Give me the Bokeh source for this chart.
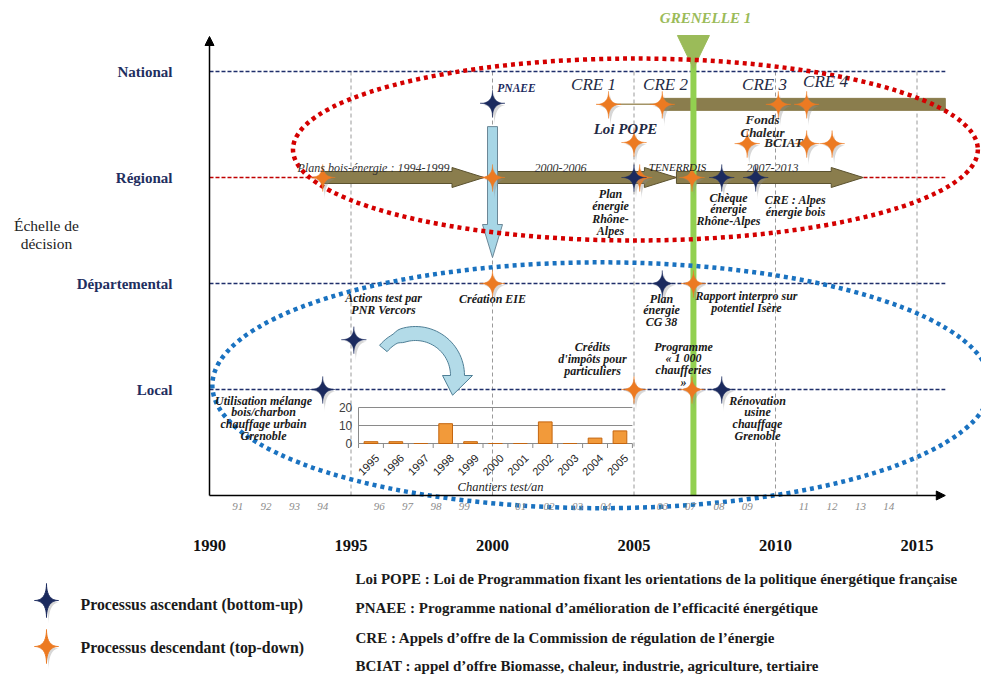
import numpy as np
from bokeh.plotting import figure
from bokeh.models import Range1d, Arrow, NormalHead
from bokeh.core.properties import value
from bokeh.embed import file_html
from bokeh.resources import INLINE

# ------------------------------------------------------------------ data
level_names = ["Local", "Départemental", "Régional", "National"]
level_values = [1, 2, 3, 4]

major_years = [1990, 1995, 2000, 2005, 2010, 2015]
minor_years = [1991, 1992, 1993, 1994, 1996, 1997, 1998, 1999, 2001, 2002,
               2003, 2004, 2006, 2007, 2008, 2009, 2011, 2012, 2013, 2014]
minor_labels = ["91", "92", "93", "94", "96", "97", "98", "99", "01", "02",
                "03", "04", "06", "07", "08", "09", "11", "12", "13", "14"]

# ascending (bottom-up) processes
asc_years = [2000.0, 2005.0, 2008.1, 2009.3, 2006.0, 1995.1, 1994.0, 2008.1]
asc_levels = [3.70, 3.0, 3.0, 3.0, 2.0, 1.47, 1.0, 1.0]

# descending (top-down) processes
desc_years = [1994.0, 2000.0, 2004.1, 2006.0, 2005.0, 2005.2, 2007.05, 2010.1,
              2011.1, 2009.0, 2011.1, 2012.0, 2000.0, 2007.1, 2005.0, 2007.05]
desc_levels = [3.0, 3.0, 3.69, 3.69, 3.33, 3.0, 3.0, 3.69,
               3.69, 3.32, 3.32, 3.32, 2.0, 2.0, 1.0, 1.0]

# regional wood-energy plans (periods)
plan_start = [1994.0, 2000.0, 2006.5]
plan_end = [1999.7, 2006.5, 2013.1]
plan_level = 3.0
plan_labels = ["Plans bois-énergie : 1994-1999", "2000-2006", "2007-2013"]

# CRE tenders band
cre_link = [2004.1, 2006.0]
cre_band = [2006.0, 2016.0]
cre_level = 3.69

# PNAEE downward arrow (national -> departmental)
pnaee_year = 2000.0
pnaee_top, pnaee_tip = 3.48, 2.245

grenelle_year = 2007.1

# inset bar chart: test sites per year
chantier_years = ["1995", "1996", "1997", "1998", "1999", "2000",
                  "2001", "2002", "2003", "2004", "2005"]
chantier_counts = [1, 1, 0, 11, 1, 0, 0, 12, 0, 3, 7]
chantier_ticks = [0, 10, 20]

legend_labels = ["Processus ascendant (bottom-up)", "Processus descendant (top-down)"]
definitions = [
    "Loi POPE : Loi de Programmation fixant les orientations de la politique énergétique française",
    "PNAEE : Programme national d’amélioration de l’efficacité énergétique",
    "CRE : Appels d’offre de la Commission de régulation de l’énergie",
    "BCIAT : appel d’offre Biomasse, chaleur, industrie, agriculture, tertiaire",
]

# ------------------------------------------------------------------ layout
PXY, PXL = 28.3, 106.0          # px per year, px per level
AX0, AY0 = 209.0, 495.0         # page px of (1990, level 0)
W, H, OFF = 981, 676, 0

def px2x(px):
    return 1990 + (px - AX0) / PXY

def py2y(py):
    return (AY0 - py) / PXL

NAVY = "#1b2a5e"
ORANGE = "#ec7a22"
SERIF = value("Liberation Serif")
SANS = value("Liberation Sans")

p = figure(width=W, height=H, x_range=Range1d(px2x(OFF), px2x(OFF + W)),
           y_range=Range1d(py2y(OFF + H), py2y(OFF)),
           output_backend="svg", toolbar_location=None,
           x_axis_type=None, y_axis_type=None, min_border=0,
           outline_line_color=None, background_fill_color="white",
           border_fill_color="white")

# inset ranges
IX0, ICW, IY0, IPV = 358.0, 24.9, 443.0, 1.8
p.extra_x_ranges = {"inset": Range1d((OFF - IX0) / ICW - 0.5, (OFF + W - IX0) / ICW - 0.5)}
p.extra_y_ranges = {"inset": Range1d((IY0 - (OFF + H)) / IPV, (IY0 - OFF) / IPV)}

x_end = 2016.0

# vertical dashed gridlines
p.segment(x0=major_years[1:], x1=major_years[1:], y0=0, y1=4.0,
          line_color="#9a9a9a", line_width=1, line_dash="4 3")

# level dashed lines
lvl_colors = ["#1f2f6b", "#1f2f6b", "#c00000", "#1f2f6b"]
p.segment(x0=1990, x1=x_end, y0=level_values, y1=level_values,
          line_color=lvl_colors, line_width=1.6, line_dash="4 2")

# ------------------------------------------------------------------ shapes
def block_arrow(x0, x1, yc, hb=6, hh=10, hl=32):
    xh = x1 - hl / PXY
    xs = [x0, xh, xh, x1, xh, xh, x0]
    ys = [yc + hb / PXL, yc + hb / PXL, yc + hh / PXL, yc,
          yc - hh / PXL, yc - hb / PXL, yc - hb / PXL]
    return xs, ys

axs, ays = [], []
for s, e in zip(plan_start, plan_end):
    a, b = block_arrow(s, e, plan_level)
    axs.append(a); ays.append(b)
p.patches(axs, ays, fill_color="#8a7d4d", line_color="#5b522f", line_width=1)

# CRE band
p.line(cre_link, [cre_level, cre_level], line_color="#a39467", line_width=1.5)
p.quad(left=[cre_band[0]], right=[cre_band[1]],
       bottom=[cre_level - 6 / PXL], top=[cre_level + 6 / PXL],
       fill_color="#8a7d4d", line_color="#8a7d4d")

# PNAEE vertical arrow
hb, hh = 5 / PXY, 10 / PXY
head = pnaee_tip + 33 / PXL
p.patch([pnaee_year - hb, pnaee_year + hb, pnaee_year + hb, pnaee_year + hh,
         pnaee_year, pnaee_year - hh, pnaee_year - hb],
        [pnaee_top, pnaee_top, head, head, pnaee_tip, head, head],
        fill_color="#a7d6e6", line_color="#6b8797", line_width=1)

# Grenelle line and triangle
p.segment(x0=[grenelle_year], x1=[grenelle_year], y0=[0], y1=[py2y(60)],
          line_color="#92d050", line_width=6)
p.patch([grenelle_year - 16 / PXY, grenelle_year + 16 / PXY, grenelle_year],
        [py2y(35), py2y(35), py2y(68)], fill_color="#9bbb59", line_color="#9bbb59")
p.text(x=[px2x(705)], y=[py2y(17)], text=["GRENELLE 1"], text_font=SERIF,
       text_font_style="bold italic", text_font_size="15px", text_color="#9bbb59",
       text_align="center", text_baseline="middle")

# dotted ellipses
p.ellipse(x=[2005.05], y=[3.264], width=24.2, height=1.717, fill_color=None,
          line_color="#d40000", line_width=4.5, line_dash="4 4")
p.ellipse(x=[2003.85], y=[1.04], width=27.5, height=2.32, fill_color=None,
          line_color="#1a72c0", line_width=4.5, line_dash="4 4")

# axes with arrows
p.add_layout(Arrow(end=NormalHead(size=9, fill_color="black", line_color="black"),
                   x_start=1990, y_start=0, x_end=1990, y_end=py2y(36),
                   line_width=1.5, line_color="black"))
p.add_layout(Arrow(end=NormalHead(size=9, fill_color="black", line_color="black"),
                   x_start=1990, y_start=0, x_end=x_end, y_end=0,
                   line_width=1.5, line_color="black"))

# ------------------------------------------------------------------ inset bar chart
idx = list(range(len(chantier_years)))
n = len(idx)
p.segment(x0=-0.5, x1=n - 0.5, y0=chantier_ticks[1:], y1=chantier_ticks[1:],
          line_color="#8a8a8a", line_width=1, x_range_name="inset", y_range_name="inset")
p.segment(x0=[-0.5], x1=[n - 0.5], y0=[0], y1=[0], line_color="#8a8a8a", line_width=1,
          x_range_name="inset", y_range_name="inset")
p.segment(x0=[-0.5], x1=[-0.5], y0=[0], y1=[chantier_ticks[-1]], line_color="#8a8a8a",
          line_width=1, x_range_name="inset", y_range_name="inset")
bounds = [i - 0.5 for i in range(n + 1)]
p.segment(x0=bounds, x1=bounds, y0=0, y1=-2.5, line_color="#8a8a8a", line_width=1,
          x_range_name="inset", y_range_name="inset")
p.vbar(x=idx, top=chantier_counts, bottom=0, width=0.55, fill_color="#f29a3a",
       line_color="#c4650f", line_width=1, x_range_name="inset", y_range_name="inset")
p.text(x=-0.75, y=chantier_ticks, text=[str(t) for t in chantier_ticks], text_font=SANS,
       text_font_size="12px", text_color="#404040", text_align="right",
       text_baseline="middle", x_range_name="inset", y_range_name="inset")
p.text(x=[i + 0.25 for i in idx], y=-7, text=chantier_years, angle=np.pi / 4,
       text_font=SANS, text_font_size="11px", text_color="#222222",
       text_align="right", text_baseline="middle",
       x_range_name="inset", y_range_name="inset")
p.text(x=[(500 - IX0) / ICW - 0.5], y=[(IY0 - 486) / IPV], text=["Chantiers test/an"],
       text_font=SERIF, text_font_style="italic", text_font_size="12.5px",
       text_color="#222222", text_align="center", text_baseline="middle",
       x_range_name="inset", y_range_name="inset")

# curved arrow from PNR Vercors to the bar chart
cx, cy, rm = 415.0, 375.0, 42.0
th = np.linspace(140, 0, 40)
wd = np.clip((140 - th) / 30.0, 0.7, 1.0) * 14
outer = [(cx + (rm + w / 2) * np.cos(np.radians(t)), cy - (rm + w / 2) * np.sin(np.radians(t)))
         for t, w in zip(th, wd)]
inner = [(cx + (rm - w / 2) * np.cos(np.radians(t)), cy - (rm - w / 2) * np.sin(np.radians(t)))
         for t, w in zip(th, wd)]
tip = (cx + rm * np.cos(np.radians(-28)), cy - rm * np.sin(np.radians(-28)))
pts = outer + [(cx + 57, cy), tip, (cx + 27, cy)] + inner[::-1]
p.patch([px2x(a) for a, b in pts], [py2y(b) for a, b in pts],
        fill_color="#b3dbe8", line_color="#4f7f96", line_width=1)

# ------------------------------------------------------------------ stars
def star(xc, yc, rh, ru, rd, e=4.0, dxp=0.0, dyp=0.0):
    t = np.linspace(0, 2 * np.pi, 64, endpoint=False)
    c, s = np.cos(t), np.sin(t)
    xs = rh * np.sign(c) * np.abs(c) ** e
    ys = np.where(s > 0, ru, rd) * np.sign(s) * np.abs(s) ** e
    return list(xc + (xs + dxp) / PXY), list(yc + (ys + dyp) / PXL)

def draw_stars(years, levels, color, rh=12.5, ru=13, rd=14):
    sx, sy, mx, my = [], [], [], []
    for x, y in zip(years, levels):
        a, b = star(x, y, rh - 1, ru - 1, rd + 7, dxp=2, dyp=-2)
        sx.append(a); sy.append(b)
        a, b = star(x, y, rh, ru, rd)
        mx.append(a); my.append(b)
    p.patches(sx, sy, fill_color="#8c8c8c", fill_alpha=0.35, line_color=None)
    p.patches(mx, my, fill_color=color, line_color=color, line_width=0.5)

draw_stars(desc_years, desc_levels, ORANGE)
draw_stars(asc_years, asc_levels, NAVY)

# ------------------------------------------------------------------ texts
def add_text(lines, cxp, y0p, sp=12.0, size="12px", style="bold italic",
             color="#1a1a1a", align="center"):
    p.text(x=[px2x(cxp)] * len(lines), y=[py2y(y0p + i * sp) for i in range(len(lines))],
           text=lines, text_font=SERIF, text_font_style=style, text_font_size=size,
           text_color=color, text_align=align, text_baseline="middle")

add_text(["PNAEE"], 516, 87, color=NAVY, size="11.5px")
for lab, xx, yy in [("CRE 1", 593, 84), ("CRE 2", 665, 84), ("CRE 3", 764, 84), ("CRE 4", 825, 81)]:
    add_text([lab], xx, yy, size="17px", style="italic", color="#1f2a44")
add_text(["Loi POPE"], 625, 128, size="15px", color="#1f2a44")
add_text(["Fonds", "Chaleur"], 762, 119, sp=13, size="13px", color="#262626")
add_text(["BCIAT"], 783, 142, size="13px", color="#262626")
for lab, xx in zip(plan_labels, [373, 560, 772]):
    add_text([lab], xx, 167, size="12px", style="italic", color="#333333")
add_text(["TENERRDIS"], 677, 166, size="11px", style="italic", color="#1a1a1a")
add_text(["Plan", "énergie", "Rhône-", "Alpes"], 610, 193, sp=12.6)
add_text(["Chèque", "énergie", "Rhône-Alpes"], 728, 197, sp=11.5)
add_text(["CRE : Alpes", "énergie bois"], 795, 199, sp=12)
add_text(["Création EIE"], 492, 298)
add_text(["Actions test par", "PNR Vercors"], 383, 297, sp=12.5)
add_text(["Plan", "énergie", "CG 38"], 661, 298, sp=11.8)
add_text(["Rapport interpro sur", "potentiel Isère"], 746, 295, sp=12)
add_text(["Crédits", "d'impôts pour", "particuliers"], 592, 346, sp=12)
add_text(["Programme", "« 1 000", "chaufferies", "»"], 683, 346, sp=11.8)
add_text(["Rénovation", "usine", "chauffage", "Grenoble"], 757, 400, sp=11.7)
add_text(["Utilisation mélange", "bois/charbon", "chauffage urbain", "Grenoble"], 263, 400, sp=11.7)

# level labels
p.text(x=px2x(172), y=level_values, text=level_names, text_font=SERIF,
       text_font_style="bold", text_font_size="15px", text_color="#1f2f5f",
       text_align="right", text_baseline="middle")
add_text(["Échelle de", "décision"], 46, 225, sp=18, size="15.5px", style="normal", color="#222222")

# year labels
p.text(x=minor_years, y=py2y(506), text=minor_labels, text_font=SERIF,
       text_font_style="italic", text_font_size="11px", text_color="#8c8c8c",
       text_align="center", text_baseline="middle")
p.text(x=major_years, y=py2y(545), text=[str(y) for y in major_years], text_font=SERIF,
       text_font_style="bold", text_font_size="16.5px", text_color="#111111",
       text_align="center", text_baseline="middle")

# legend
for (xx, yy), col in zip([(46, 600), (46, 646)], [NAVY, ORANGE]):
    a, b = star(px2x(xx), py2y(yy), 11, 7, 22, dxp=2, dyp=-2)
    p.patch(a, b, fill_color="#8c8c8c", fill_alpha=0.35, line_color=None)
    a, b = star(px2x(xx), py2y(yy), 12, 17, 17)
    p.patch(a, b, fill_color=col, line_color=col)
p.text(x=px2x(80), y=[py2y(604), py2y(647)], text=legend_labels, text_font=SERIF,
       text_font_style="bold", text_font_size="15.8px", text_color="#1a1a1a",
       text_align="left", text_baseline="middle")
p.text(x=px2x(355), y=[py2y(578), py2y(607), py2y(637), py2y(665)], text=definitions,
       text_font=SERIF, text_font_style="bold", text_font_size="15px",
       text_color="#1a1a1a", text_align="left", text_baseline="middle")

open("out.html", "w").write(file_html(p, INLINE))
